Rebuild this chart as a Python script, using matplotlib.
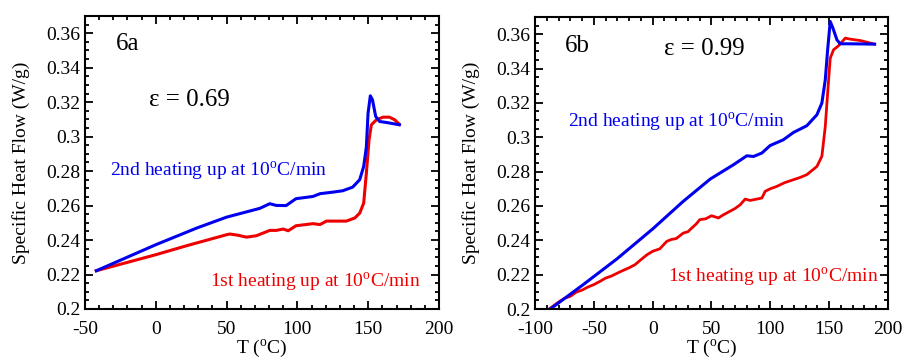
import matplotlib
matplotlib.use("Agg")
import matplotlib.pyplot as plt
from matplotlib.ticker import MultipleLocator, FixedLocator

plt.rcParams['font.family'] = ['Liberation Serif', 'DejaVu Serif']
plt.rcParams['mathtext.fontset'] = 'custom'
plt.rcParams['mathtext.rm'] = 'Liberation Serif'
plt.rcParams['axes.unicode_minus'] = False

# ---- Panel 6a data ----
a_blue_T = [-42, 0, 29, 50, 73.5, 80.5, 85, 92, 99, 111, 116, 125, 132, 139, 144, 146.8, 148.7, 149.9, 151.5, 153, 155.3, 158, 163, 172]
a_blue_Q = [0.2222, 0.2373, 0.247, 0.2533, 0.2584, 0.2611, 0.2601, 0.2600, 0.2640, 0.2653, 0.2669, 0.2678, 0.2686, 0.2707, 0.2750, 0.2827, 0.2940, 0.3136, 0.3237, 0.3214, 0.3117, 0.3088, 0.3082, 0.3069]
a_red_T = [-42, 0, 21.7, 50, 52.3, 58, 64, 71, 80.5, 85, 90, 93.5, 99, 111, 116, 120.5, 134.6, 140.5, 144, 146.8, 148.7, 150.6, 152.2, 155.8, 160.5, 165, 168.7, 172]
a_red_Q = [0.2222, 0.2315, 0.2367, 0.2431, 0.2435, 0.2428, 0.2417, 0.2425, 0.2456, 0.2456, 0.2464, 0.2454, 0.2483, 0.2495, 0.2490, 0.2510, 0.2510, 0.2528, 0.2556, 0.2614, 0.2788, 0.2982, 0.3068, 0.3098, 0.3113, 0.3113, 0.3098, 0.3072]

# ---- Panel 6b data ----
b_blue_T = [-87, -59, -30.5, 0, 26, 49, 68.7, 80, 85.7, 92.8, 99.9, 111, 119.7, 131, 139.6, 143.8, 146.7, 148.7, 150.9, 153.2, 156.6, 159.4, 168, 188.6]
b_blue_Q = [0.2000, 0.2142, 0.2291, 0.2466, 0.2627, 0.2757, 0.2840, 0.2892, 0.2888, 0.2908, 0.2952, 0.2985, 0.3028, 0.3067, 0.3131, 0.3199, 0.3335, 0.3509, 0.3674, 0.3635, 0.3567, 0.3544, 0.3544, 0.3542]
b_red_T = [-88, -80, -75, -70, -65, -60, -55, -50, -45, -40, -35, -30, -25, -20, -15, -10.7, -5, 0, 6, 12, 16, 20, 26, 30, 33, 37, 40, 45, 50, 55.9, 60, 63, 70, 74.4, 78.6, 82.9, 88.5, 92.8, 95.6, 100, 105.6, 112, 119.7, 125, 131, 139.6, 143.8, 146.7, 148.7, 150.9, 153.7, 158, 163.7, 168, 176.4, 188.6]
b_red_Q = [0.2000, 0.2040, 0.2062, 0.2074, 0.2098, 0.2110, 0.2128, 0.2142, 0.2160, 0.2180, 0.2192, 0.2209, 0.2225, 0.2240, 0.2258, 0.2283, 0.2315, 0.2336, 0.2350, 0.2394, 0.2405, 0.2410, 0.2442, 0.2450, 0.2470, 0.2495, 0.2520, 0.2525, 0.2543, 0.2530, 0.2548, 0.2559, 0.2585, 0.2607, 0.2640, 0.2632, 0.2640, 0.2646, 0.2685, 0.2700, 0.2714, 0.2735, 0.2753, 0.2765, 0.2782, 0.2830, 0.2889, 0.3063, 0.3257, 0.3460, 0.3509, 0.3533, 0.3577, 0.3571, 0.3563, 0.3542]

xlabel = r"T ($^{\rm o}$C)"
ylabel = "Specific Heat Flow (W/g)"
blue_label = r"2nd heating up at 10$^{\rm o}$C/min"
red_label = r"1st heating up at 10$^{\rm o}$C/min"

BLUE = "#0000ee"
RED = "#ee0000"

fig = plt.figure(figsize=(9.03, 3.59), dpi=100)
ax1 = fig.add_axes([85/903, 50/359, 354/903, 293/359])
ax2 = fig.add_axes([535/903, 50/359, 353/903, 292/359])

def style(ax, xlim, xmajor):
    ax.set_xlim(*xlim)
    ax.set_ylim(0.2, 0.37)
    ax.xaxis.set_major_locator(MultipleLocator(xmajor))
    ax.xaxis.set_minor_locator(MultipleLocator(10))
    ax.yaxis.set_major_locator(FixedLocator([0.2, 0.22, 0.24, 0.26, 0.28, 0.3, 0.32, 0.34, 0.36]))
    ax.yaxis.set_minor_locator(MultipleLocator(0.005))
    ax.set_yticklabels(["0.2", "0.22", "0.24", "0.26", "0.28", "0.3", "0.32", "0.34", "0.36"])
    ax.tick_params(which='both', direction='in', top=True, right=True, labelsize=14, width=1.3)
    ax.tick_params(which='major', length=6)
    ax.tick_params(which='minor', length=3)
    ax.tick_params(axis='x', pad=9)
    for s in ax.spines.values():
        s.set_linewidth(1.5)
    ax.set_xlabel(xlabel, fontsize=14, va='top')
    ax.set_ylabel(ylabel, fontsize=14)
    ax.xaxis.set_label_coords(0.5, -0.098)
    ax.yaxis.set_label_coords(-0.155, 0.5)

style(ax1, (-50, 200), 50)
style(ax2, (-100, 200), 50)

ax1.plot(a_red_T, a_red_Q, color=RED, lw=2.2)
ax1.plot(a_blue_T, a_blue_Q, color=BLUE, lw=2.2)
ax2.plot(b_red_T, b_red_Q, color=RED, lw=2.0)
ax2.plot(b_blue_T, b_blue_Q, color=BLUE, lw=2.2)

ax1.text(-20, 0.354, "6a", fontsize=18, ha='center', va='center')
ax1.text(24, 0.321, "ε = 0.69", fontsize=18, ha='center', va='center')
ax1.text(-32.3, 0.280, blue_label, fontsize=14, color=BLUE, ha='left', va='center')
ax1.text(38.3, 0.2157, red_label, fontsize=14, color=RED, ha='left', va='center')

ax2.text(-64.3, 0.353, "6b", fontsize=18, ha='center', va='center')
ax2.text(44, 0.3512, "ε = 0.99", fontsize=18, ha='center', va='center')
ax2.text(-72, 0.3085, blue_label, fontsize=14, color=BLUE, ha='left', va='center')
ax2.text(13, 0.2186, red_label, fontsize=14, color=RED, ha='left', va='center')

fig.savefig("out.png", dpi=100)
